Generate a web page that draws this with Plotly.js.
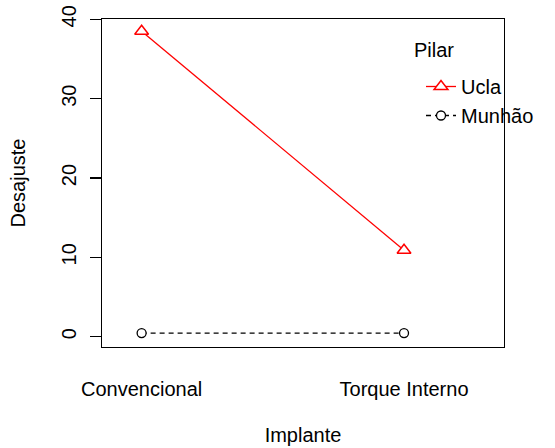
<!DOCTYPE html>
<html>
<head>
<meta charset="utf-8">
<script src="https://cdn.plot.ly/plotly-3.0.1.min.js"></script>
<style>html,body{margin:0;padding:0;background:#fff;}#chart{width:555px;height:448px;}</style>
</head>
<body>
<div id="chart"></div>
<script>
const implante = ["Convencional", "Torque Interno"];
const ucla = [38.5, 10.9];
const munhao = [0.45, 0.45];
const seriesNames = ["Ucla", "Munhão"];
const legendTitle = "Pilar";
const yTicks = [0, 10, 20, 30, 40];

const FONT = "Liberation Sans, Arial, Helvetica, sans-serif";
const FS = 20;

const traces = [
  {
    x: implante, y: ucla, name: seriesNames[0], type: "scatter", mode: "lines+markers",
    line: {color: "#ff0000", width: 1.3},
    marker: {symbol: "triangle-up", size: 12, color: "#ffffff", line: {color: "#ff0000", width: 1.5}}
  },
  {
    x: implante, y: munhao, name: seriesNames[1], type: "scatter", mode: "lines+markers",
    line: {color: "#000000", width: 1.3, dash: "5px,4px"},
    marker: {symbol: "circle", size: 9, color: "#ffffff", line: {color: "#000000", width: 1.3}}
  }
];

const plotW = 555 - 102 - 51, plotH = 448 - 19 - 101;
const layout = {
  width: 555, height: 448,
  margin: {l: 102, r: 51, t: 19, b: 101, pad: 0},
  paper_bgcolor: "#ffffff", plot_bgcolor: "#ffffff",
  font: {family: FONT, size: FS, color: "#000000"},
  showlegend: true,
  legend: {
    x: (421 - 102) / plotW, xref: "paper",
    y: 1 - (67 - 19) / plotH, yanchor: "top",
    itemwidth: 30,
    font: {size: FS}, bgcolor: "rgba(0,0,0,0)", borderwidth: 0
  },
  annotations: [{
    text: legendTitle, xref: "paper", yref: "paper",
    x: (434 - 102) / plotW, y: 1 - (50 - 19) / plotH,
    xanchor: "center", yanchor: "middle", showarrow: false,
    font: {size: FS}
  }],
  xaxis: {
    type: "category", range: [-0.151, 1.381],
    showgrid: false, zeroline: false,
    showline: true, mirror: true, linecolor: "#000", linewidth: 1.3,
    ticks: "", ticklabelstandoff: 24,
    tickfont: {size: FS},
    title: {text: "Implante", font: {size: FS}, standoff: 28},
    automargin: false
  },
  yaxis: {
    range: [-1.3, 40.04],
    tickvals: yTicks, ticktext: yTicks.map(String),
    showgrid: false, zeroline: false,
    showline: true, mirror: true, linecolor: "#000", linewidth: 1.3,
    ticks: "outside", ticklen: 11, tickwidth: 1.3, tickcolor: "#000",
    tickangle: -90, tickfont: {size: FS}, ticklabelstandoff: 6,
    title: {text: "Desajuste", font: {size: FS}, standoff: 26},
    automargin: false
  }
};

Plotly.newPlot("chart", traces, layout, {displayModeBar: false, staticPlot: true});
</script>
</body>
</html>
